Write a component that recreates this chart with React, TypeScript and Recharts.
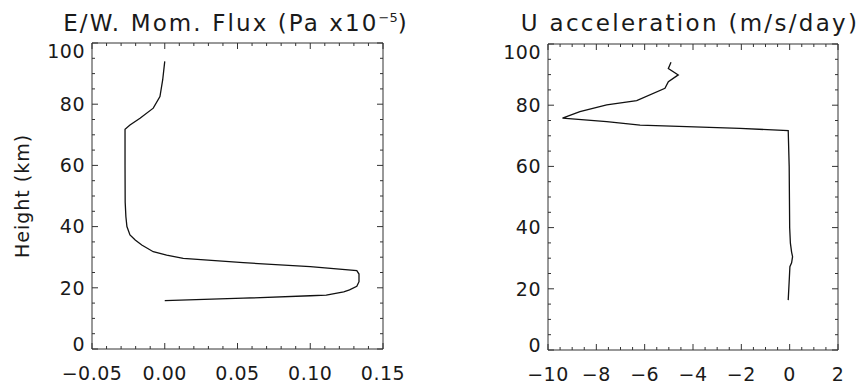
import React from 'react';
import { LineChart, Line, XAxis, YAxis } from 'recharts';

// ---- data ----
const fluxHeight = [94, 88, 82.5, 78.7, 75.4, 73.2, 71.8, 60, 48, 43.2, 40, 37.3, 35.6, 34, 31.8, 30.7, 29.6, 28.2, 26.9, 25.6, 24.5, 22, 20.5, 19.3, 18.7, 17.6, 17.4, 16.6, 15.8];
const fluxValue = [0.0, -0.0014, -0.0033, -0.0079, -0.017, -0.0239, -0.0273, -0.0273, -0.0272, -0.0267, -0.026, -0.0239, -0.0203, -0.0158, -0.0079, 0.0013, 0.0127, 0.054, 0.1, 0.132, 0.1335, 0.1335, 0.132, 0.127, 0.123, 0.111, 0.1, 0.054, 0.0];

const accelHeight = [94, 92, 89.9, 87.7, 85.5, 81.5, 80.1, 77.9, 75.8, 74.6, 73.5, 73.0, 72.4, 71.7, 60, 40, 34.9, 32, 30.5, 28.5, 27.2, 24, 16.3];
const accelValue = [-4.91, -5.02, -4.61, -5.02, -5.16, -6.33, -7.57, -8.68, -9.4, -7.57, -6.19, -4.26, -2.06, -0.06, -0.02, 0.0, 0.03, 0.08, 0.12, 0.08, 0.01, -0.01, -0.06];

const heightTicks = [0, 20, 40, 60, 80, 100];
const fluxTicks = [-0.05, 0, 0.05, 0.1, 0.15];
const accelTicks = [-10, -8, -6, -4, -2, 0, 2];

const fluxTitle = 'E/W. Mom. Flux (Pa x10';
const fluxTitleExp = '−5';
const fluxTitleEnd = ')';
const accelTitle = 'U acceleration (m/s/day)';
const heightLabel = 'Height (km)';

const FONT = '"DejaVu Sans", sans-serif';
const INK = '#1a1a1a';
const AXIS = '#333';

function subdivide(majors: number[], n: number): number[] {
  const out: number[] = [];
  for (let i = 0; i < majors.length - 1; i++) {
    const a = majors[i];
    const step = (majors[i + 1] - a) / n;
    for (let k = 0; k < n; k++) out.push(+(a + k * step).toFixed(6));
  }
  out.push(majors[majors.length - 1]);
  return out;
}
const isMajor = (v: number, majors: number[]) => majors.some((m) => Math.abs(m - v) < 1e-9);
const minus = (v: number, s: string) => (v < -1e-12 ? '−' + s : s);
const fmtFlux = (v: number) => minus(v, Math.abs(v).toFixed(2));
const fmtAccel = (v: number) => minus(v, String(Math.abs(Math.round(v))));
const fmtHeight = (v: number) => String(Math.round(v));

const MAJ = 6;
const MIN = 3;

const makeBottomTick = (majors: number[], fmt: (v: number) => string) => (props: any) => {
  const { x, y, payload } = props;
  const major = isMajor(payload.value, majors);
  return (
    <g>
      <line x1={x} y1={y} x2={x} y2={y - (major ? MAJ : MIN)} stroke={AXIS} strokeWidth={1} />
      {major && (
        <text x={x} y={y + 31} textAnchor="middle" fontFamily={FONT} fontSize={19} fill={INK} letterSpacing={0.5}>
          {fmt(payload.value)}
        </text>
      )}
    </g>
  );
};
const makeTopTick = (majors: number[]) => (props: any) => {
  const { x, y, payload } = props;
  const major = isMajor(payload.value, majors);
  return <line x1={x} y1={y} x2={x} y2={y + (major ? MAJ : MIN)} stroke={AXIS} strokeWidth={1} />;
};
const LeftTick = (props: any) => {
  const { x, y, payload } = props;
  const v = payload.value;
  const major = isMajor(v, heightTicks);
  // end labels are pulled inside the axis range, as in the reference
  const shift = Math.abs(v - heightTicks[heightTicks.length - 1]) < 1e-9 ? 8 : Math.abs(v - heightTicks[0]) < 1e-9 ? -5 : 0;
  return (
    <g>
      <line x1={x} y1={y} x2={x + (major ? MAJ : MIN)} y2={y} stroke={AXIS} strokeWidth={1} />
      {major && (
        <text x={x - 7} y={y + shift} dy="0.36em" textAnchor="end" fontFamily={FONT} fontSize={19} fill={INK} letterSpacing={0.5}>
          {fmtHeight(v)}
        </text>
      )}
    </g>
  );
};
const RightTick = (props: any) => {
  const { x, y, payload } = props;
  const major = isMajor(payload.value, heightTicks);
  return <line x1={x} y1={y} x2={x - (major ? MAJ : MIN)} y2={y} stroke={AXIS} strokeWidth={1} />;
};

type PanelProps = {
  data: { h: number; v: number }[];
  majors: number[];
  div: number;
  fmt: (v: number) => string;
  width: number;
  margin: { top: number; right: number; bottom: number; left: number };
  leftWidth: number;
  bottomHeight: number;
};

function Panel({ data, majors, div, fmt, width, margin, leftWidth, bottomHeight }: PanelProps) {
  const xTicks = subdivide(majors, div);
  const yTicks = subdivide(heightTicks, 4);
  const xDomain: [number, number] = [majors[0], majors[majors.length - 1]];
  const common = {
    type: 'number' as const,
    allowDataOverflow: true,
    interval: 0 as const,
    tickSize: 0,
    tickMargin: 0,
    tickLine: false,
    axisLine: { stroke: AXIS, strokeWidth: 1 },
  };
  return (
    <LineChart width={width} height={384} data={data} margin={margin}>
      <XAxis {...common} xAxisId="b" orientation="bottom" dataKey="v" domain={xDomain} ticks={xTicks} height={bottomHeight} tick={makeBottomTick(majors, fmt)} />
      <XAxis {...common} xAxisId="t" orientation="top" dataKey="v" domain={xDomain} ticks={xTicks} height={10} tick={makeTopTick(majors)} />
      <YAxis {...common} yAxisId="l" orientation="left" domain={[0, 100]} ticks={yTicks} width={leftWidth} tick={LeftTick} />
      <YAxis {...common} yAxisId="r" orientation="right" domain={[0, 100]} ticks={yTicks} width={10} tick={RightTick} />
      <Line xAxisId="b" yAxisId="l" dataKey="h" type="linear" dot={false} activeDot={false} stroke="#111" strokeWidth={1.3} isAnimationActive={false} />
    </LineChart>
  );
}

const fluxData = fluxHeight.map((h, i) => ({ h, v: fluxValue[i] }));
const accelData = accelHeight.map((h, i) => ({ h, v: accelValue[i] }));

export default function App() {
  return (
    <div style={{ position: 'absolute', left: 0, top: 0, width: 865, height: 384, background: '#fff', overflow: 'hidden' }}>
      <div style={{ position: 'absolute', left: 0, top: 0 }}>
        <Panel data={fluxData} majors={fluxTicks} div={5} fmt={fmtFlux} width={432}
          margin={{ top: 33, right: 39, bottom: 0, left: 0 }} leftWidth={92} bottomHeight={35} />
      </div>
      <div style={{ position: 'absolute', left: 432, top: 0 }}>
        <Panel data={accelData} majors={accelTicks} div={4} fmt={fmtAccel} width={433}
          margin={{ top: 34, right: 17, bottom: 0, left: 0 }} leftWidth={116} bottomHeight={34} />
      </div>
      <svg width={865} height={384} style={{ position: 'absolute', left: 0, top: 0, pointerEvents: 'none' }}>
        <text x={236} y={31} textAnchor="middle" fontFamily={FONT} fontSize={23} fill={INK} letterSpacing={2.1}>
          {fluxTitle}
          <tspan dy={-9} fontSize={13} letterSpacing={0}>{fluxTitleExp}</tspan>
          <tspan dy={9}>{fluxTitleEnd}</tspan>
        </text>
        <text x={690} y={31} textAnchor="middle" fontFamily={FONT} fontSize={23} fill={INK} letterSpacing={2.3}>
          {accelTitle}
        </text>
        <text x={22} y={196} transform="rotate(-90 22 196)" textAnchor="middle" dy="0.36em" fontFamily={FONT} fontSize={19} fill={INK} letterSpacing={1}>
          {heightLabel}
        </text>
      </svg>
    </div>
  );
}
